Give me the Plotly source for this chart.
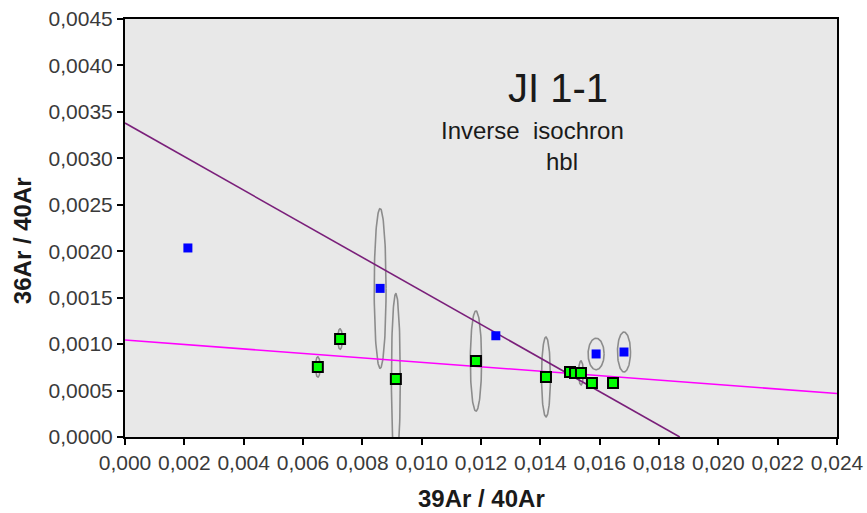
import numpy as np
import plotly.graph_objects as go

# Step data: 39Ar/40Ar (x) and 36Ar/40Ar (y)
blue_x = [0.00212, 0.00860, 0.01250, 0.01588, 0.01682]
blue_y = [0.002035, 0.00160, 0.00109, 0.000894, 0.000915]

green_x = [0.00650, 0.00725, 0.00913, 0.01183, 0.01419, 0.01500, 0.01517, 0.01537, 0.01574, 0.01645]
green_y = [0.000754, 0.001055, 0.000624, 0.000818, 0.000646, 0.000700, 0.000690, 0.000690, 0.000580, 0.000580]

# Error ellipses: centre and semi-axes
ell_x = [0.00860, 0.00913, 0.01183, 0.01419, 0.01588, 0.01682, 0.00650, 0.00725, 0.01537]
ell_y = [0.00160, 0.000624, 0.000818, 0.000646, 0.000894, 0.000915, 0.000754, 0.001055, 0.000690]
ell_rx = [0.00020, 0.00015, 0.00019, 0.00015, 0.00027, 0.00022, 0.00008, 0.00008, 0.00008]
ell_ry = [0.00086, 0.00092, 0.00054, 0.00043, 0.00017, 0.000215, 0.00011, 0.00011, 0.00013]

# Regression lines: intercept on y axis and x-axis intercept
purple_y0 = 0.00338
purple_x0 = 0.01870
magenta_y0 = 0.001044
magenta_y_end = 0.000468

x_min, x_max = 0.0, 0.024
y_min, y_max = 0.0, 0.0045
x_ticks = [round(0.002 * i, 3) for i in range(13)]
y_ticks = [round(0.0005 * i, 4) for i in range(10)]

fig = go.Figure()

t = np.linspace(0, 2 * np.pi, 120)
for cx, cy, rx, ry in zip(ell_x, ell_y, ell_rx, ell_ry):
    fig.add_trace(go.Scatter(
        x=cx + rx * np.cos(t), y=cy + ry * np.sin(t),
        mode="lines", line=dict(color="#8c8c8c", width=1.6),
        hoverinfo="skip", showlegend=False))

fig.add_trace(go.Scatter(
    x=[x_min, x_max], y=[magenta_y0, magenta_y_end], mode="lines",
    line=dict(color="#ff00ff", width=1.6), showlegend=False))
fig.add_trace(go.Scatter(
    x=[x_min, purple_x0], y=[purple_y0, 0.0], mode="lines",
    line=dict(color="#7a1f7a", width=1.6), showlegend=False))

fig.add_trace(go.Scatter(
    x=blue_x, y=blue_y, mode="markers",
    marker=dict(symbol="square", size=9, color="#0000ff", line=dict(width=0)),
    showlegend=False))
fig.add_trace(go.Scatter(
    x=green_x, y=green_y, mode="markers",
    marker=dict(symbol="square", size=10, color="#00ff00", line=dict(color="black", width=2)),
    showlegend=False))

font_family = "Liberation Sans, Arial, sans-serif"
labels = [
    dict(x=0.608, y=0.835, text="JI 1-1", size=40, angle=0),
    dict(x=0.572, y=0.734, text="Inverse  isochron", size=24, angle=0),
    dict(x=0.614, y=0.658, text="hbl", size=24, angle=0),
    dict(x=0.500, y=-0.147, text="<b>39Ar / 40Ar</b>", size=24, angle=0),
    dict(x=-0.143, y=0.469, text="<b>36Ar / 40Ar</b>", size=24, angle=-90),
]
for lab in labels:
    fig.add_annotation(
        x=lab["x"], y=lab["y"], xref="paper", yref="paper", text=lab["text"],
        xanchor="center", yanchor="middle", textangle=lab["angle"],
        showarrow=False, font=dict(family=font_family, size=lab["size"], color="#1a1a1a"))

axis_common = dict(
    showline=True, linecolor="black", linewidth=2, mirror=True,
    ticks="outside", ticklen=6, tickwidth=2, tickcolor="black",
    showgrid=False, zeroline=False, automargin=False,
    tickfont=dict(family=font_family, size=21, color="#3a3a3a"),
)

fig.update_xaxes(range=[x_min, x_max], tickvals=x_ticks, tickformat=".3f", **axis_common)
fig.update_yaxes(range=[y_min, y_max], tickvals=y_ticks, tickformat=".4f", **axis_common)

fig.update_layout(
    width=867, height=513,
    margin=dict(l=125, r=30, t=19, b=76),
    plot_bgcolor="#e8e8e8", paper_bgcolor="white",
    separators=", ",
    showlegend=False,
)

fig.write_html("out.html")
